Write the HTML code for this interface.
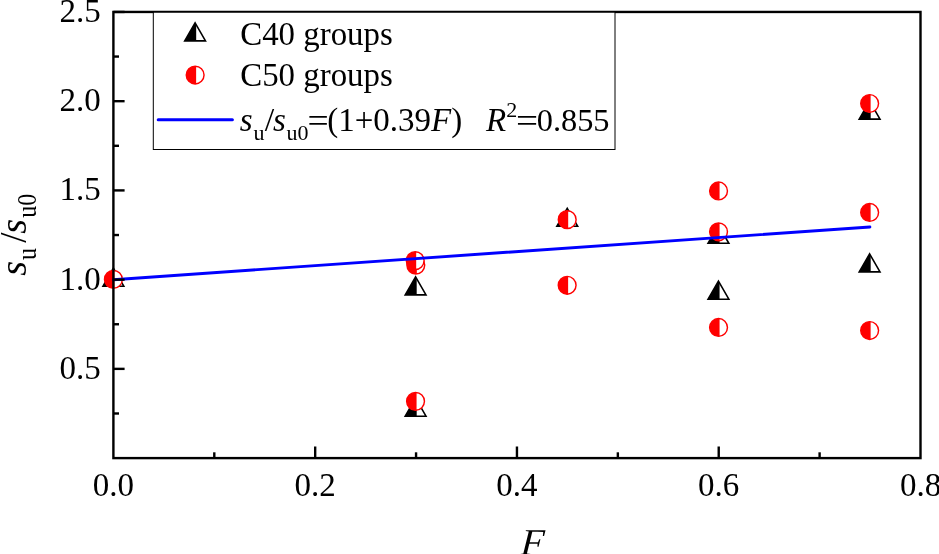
<!DOCTYPE html>
<html><head><meta charset="utf-8"><title>chart</title>
<style>
html,body{margin:0;padding:0;background:#fff;}
body{width:939px;height:554px;overflow:hidden;}
svg{display:block;}
text{font-family:"Liberation Serif",serif;fill:#000;}
.i{font-style:italic;}
</style></head><body>
<svg width="939" height="554" viewBox="0 0 939 554">
<rect width="939" height="554" fill="#fff"/>
<g id="data">
<g stroke="#000" stroke-width="1.6" stroke-linejoin="miter"><path d="M113.40 268.20L123.79 286.20L103.01 286.20Z" fill="#fff"/><path d="M113.40 268.20L114.50 270.11L114.50 286.20L103.01 286.20Z" fill="#000" stroke="none"/></g>
<g stroke="#000" stroke-width="1.6" stroke-linejoin="miter"><path d="M415.60 276.90L425.99 294.90L405.21 294.90Z" fill="#fff"/><path d="M415.60 276.90L416.70 278.81L416.70 294.90L405.21 294.90Z" fill="#000" stroke="none"/></g>
<g stroke="#000" stroke-width="1.6" stroke-linejoin="miter"><path d="M415.60 398.20L425.99 416.20L405.21 416.20Z" fill="#fff"/><path d="M415.60 398.20L416.70 400.11L416.70 416.20L405.21 416.20Z" fill="#000" stroke="none"/></g>
<g stroke="#000" stroke-width="1.6" stroke-linejoin="miter"><path d="M567.25 208.30L577.64 226.30L556.86 226.30Z" fill="#fff"/><path d="M567.25 208.30L568.35 210.21L568.35 226.30L556.86 226.30Z" fill="#000" stroke="none"/></g>
<g stroke="#000" stroke-width="1.6" stroke-linejoin="miter"><path d="M718.45 225.30L728.84 243.30L708.06 243.30Z" fill="#fff"/><path d="M718.45 225.30L719.55 227.21L719.55 243.30L708.06 243.30Z" fill="#000" stroke="none"/></g>
<g stroke="#000" stroke-width="1.6" stroke-linejoin="miter"><path d="M718.45 281.20L728.84 299.20L708.06 299.20Z" fill="#fff"/><path d="M718.45 281.20L719.55 283.11L719.55 299.20L708.06 299.20Z" fill="#000" stroke="none"/></g>
<g stroke="#000" stroke-width="1.6" stroke-linejoin="miter"><path d="M869.60 101.10L879.99 119.10L859.21 119.10Z" fill="#fff"/><path d="M869.60 101.10L870.70 103.01L870.70 119.10L859.21 119.10Z" fill="#000" stroke="none"/></g>
<g stroke="#000" stroke-width="1.6" stroke-linejoin="miter"><path d="M869.60 253.90L879.99 271.90L859.21 271.90Z" fill="#fff"/><path d="M869.60 253.90L870.70 255.81L870.70 271.90L859.21 271.90Z" fill="#000" stroke="none"/></g>
<circle cx="113.40" cy="279.40" r="8.9" fill="#fff" stroke="#f00" stroke-width="1.45"/><path d="M114.40 270.50L113.40 270.50A8.9 8.9 0 0 0 113.40 288.30L114.40 288.30Z" fill="#f00"/>
<circle cx="415.80" cy="265.10" r="8.9" fill="#fff" stroke="#f00" stroke-width="1.45"/><path d="M416.80 256.20L415.80 256.20A8.9 8.9 0 0 0 415.80 274.00L416.80 274.00Z" fill="#f00"/>
<circle cx="415.20" cy="260.60" r="8.9" fill="#fff" stroke="#f00" stroke-width="1.45"/><path d="M416.20 251.70L415.20 251.70A8.9 8.9 0 0 0 415.20 269.50L416.20 269.50Z" fill="#f00"/>
<circle cx="415.55" cy="401.35" r="8.9" fill="#fff" stroke="#f00" stroke-width="1.45"/><path d="M416.55 392.45L415.55 392.45A8.9 8.9 0 0 0 415.55 410.25L416.55 410.25Z" fill="#f00"/>
<circle cx="567.20" cy="219.65" r="8.9" fill="#fff" stroke="#f00" stroke-width="1.45"/><path d="M568.20 210.75L567.20 210.75A8.9 8.9 0 0 0 567.20 228.55L568.20 228.55Z" fill="#f00"/>
<circle cx="567.15" cy="285.25" r="8.9" fill="#fff" stroke="#f00" stroke-width="1.45"/><path d="M568.15 276.35L567.15 276.35A8.9 8.9 0 0 0 567.15 294.15L568.15 294.15Z" fill="#f00"/>
<circle cx="718.55" cy="190.95" r="8.9" fill="#fff" stroke="#f00" stroke-width="1.45"/><path d="M719.55 182.05L718.55 182.05A8.9 8.9 0 0 0 718.55 199.85L719.55 199.85Z" fill="#f00"/>
<circle cx="718.55" cy="231.80" r="8.9" fill="#fff" stroke="#f00" stroke-width="1.45"/><path d="M719.55 222.90L718.55 222.90A8.9 8.9 0 0 0 718.55 240.70L719.55 240.70Z" fill="#f00"/>
<circle cx="718.55" cy="327.45" r="8.9" fill="#fff" stroke="#f00" stroke-width="1.45"/><path d="M719.55 318.55L718.55 318.55A8.9 8.9 0 0 0 718.55 336.35L719.55 336.35Z" fill="#f00"/>
<circle cx="869.65" cy="103.50" r="8.9" fill="#fff" stroke="#f00" stroke-width="1.45"/><path d="M870.65 94.60L869.65 94.60A8.9 8.9 0 0 0 869.65 112.40L870.65 112.40Z" fill="#f00"/>
<circle cx="869.65" cy="212.45" r="8.9" fill="#fff" stroke="#f00" stroke-width="1.45"/><path d="M870.65 203.55L869.65 203.55A8.9 8.9 0 0 0 869.65 221.35L870.65 221.35Z" fill="#f00"/>
<circle cx="869.65" cy="330.50" r="8.9" fill="#fff" stroke="#f00" stroke-width="1.45"/><path d="M870.65 321.60L869.65 321.60A8.9 8.9 0 0 0 869.65 339.40L870.65 339.40Z" fill="#f00"/>
</g>
<line x1="113.4" y1="279.7" x2="869.9" y2="227.0" stroke="#00f" stroke-width="2.9" stroke-linecap="round"/>
<rect x="113.4" y="11.95" width="807.10" height="446.15" fill="none" stroke="#000" stroke-width="2.4"/>
<g stroke="#000" stroke-width="2.4">
<line x1="214.29" y1="458.1" x2="214.29" y2="452.30"/><line x1="315.18" y1="458.1" x2="315.18" y2="446.50"/><line x1="416.06" y1="458.1" x2="416.06" y2="452.30"/><line x1="516.95" y1="458.1" x2="516.95" y2="446.50"/><line x1="617.84" y1="458.1" x2="617.84" y2="452.30"/><line x1="718.72" y1="458.1" x2="718.72" y2="446.50"/><line x1="819.61" y1="458.1" x2="819.61" y2="452.30"/><line x1="113.4" y1="413.49" x2="119.00" y2="413.49"/><line x1="113.4" y1="368.87" x2="124.60" y2="368.87"/><line x1="113.4" y1="324.25" x2="119.00" y2="324.25"/><line x1="113.4" y1="279.64" x2="124.60" y2="279.64"/><line x1="113.4" y1="235.03" x2="119.00" y2="235.03"/><line x1="113.4" y1="190.41" x2="124.60" y2="190.41"/><line x1="113.4" y1="145.80" x2="119.00" y2="145.80"/><line x1="113.4" y1="101.18" x2="124.60" y2="101.18"/><line x1="113.4" y1="56.56" x2="119.00" y2="56.56"/><line x1="113.4" y1="11.95" x2="124.60" y2="11.95"/>
</g>
<rect x="153.3" y="12.2" width="461.7" height="137.3" fill="#fff" stroke="#000" stroke-width="1"/>
<g stroke="#000" stroke-width="1.6" stroke-linejoin="miter"><path d="M195.10 22.90L205.49 40.90L184.71 40.90Z" fill="#fff"/><path d="M195.10 22.90L196.20 24.81L196.20 40.90L184.71 40.90Z" fill="#000" stroke="none"/></g>
<circle cx="195.15" cy="75.05" r="8.9" fill="#fff" stroke="#f00" stroke-width="1.45"/><path d="M196.15 66.15L195.15 66.15A8.9 8.9 0 0 0 195.15 83.95L196.15 83.95Z" fill="#f00"/>
<line x1="158.2" y1="119.85" x2="232.4" y2="119.85" stroke="#00f" stroke-width="3" stroke-linecap="round"/>
<text x="240.2" y="45.1" font-size="32.9">C40 groups</text>
<text x="240.2" y="85.5" font-size="32.9">C50 groups</text>
<g font-size="33"><text x="239.7" y="130.8" class="i">s</text><text x="253.6" y="139.8" font-size="22">u</text><text x="264.7" y="130.8" font-size="34">/</text><text x="273.1" y="130.8" class="i">s</text><text x="286.6" y="139.8" font-size="22">u0</text><text transform="translate(307.52 131.70) scale(1.140 1)" font-size="33">=</text><text x="327.15" y="130.8">(1+0.39<tspan class="i">F</tspan>)</text><text x="486.1" y="130.8" class="i">R</text><text x="506.3" y="116.9" font-size="22">2</text><text transform="translate(515.94 131.70) scale(1.186 1)" font-size="33">=</text><text x="536.7" y="130.8" font-size="32.4">0.855</text></g>
<g font-size="33" text-anchor="middle">
<text x="113.40" y="496.0">0.0</text><text x="315.18" y="496.0">0.2</text><text x="516.95" y="496.0">0.4</text><text x="718.72" y="496.0">0.6</text><text x="920.50" y="496.0">0.8</text>
</g>
<g font-size="33" text-anchor="end">
<text x="100.7" y="378.87">0.5</text><text x="100.7" y="289.64">1.0</text><text x="100.7" y="200.41">1.5</text><text x="100.7" y="111.18">2.0</text><text x="100.7" y="21.95">2.5</text>
</g>
<text transform="translate(520.3 555) skewX(-4)" font-size="38" class="i">F</text>
<g transform="translate(25.8 275.7) rotate(-90)" font-size="38"><text class="i" x="0" y="0">s</text><text transform="translate(15.7 10) scale(1 1.1)" font-size="24">u</text><text x="32.95" y="0" font-size="37">/</text><text class="i" x="41.95" y="0">s</text><text transform="translate(57.9 10) scale(1 1.1)" font-size="24">u0</text></g>
</svg>
</body></html>
